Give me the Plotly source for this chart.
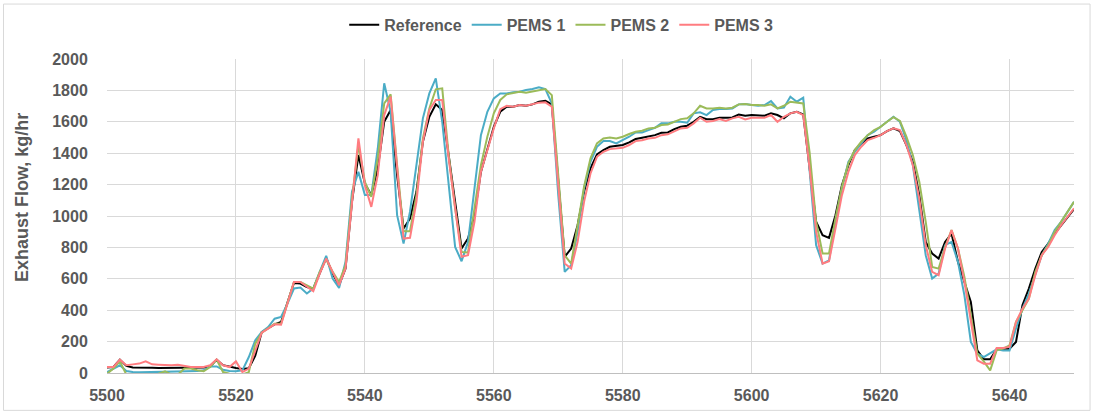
import plotly.graph_objects as go

time_s = list(range(5500, 5651))

reference = [35, 38, 85, 45, 35, 33, 33, 33, 32, 32, 32, 33, 35, 35, 35, 35, 40, 85, 50, 40,
             32, 25, 30, 110, 260, 285, 310, 325, 453, 574, 570, 548, 538, 633, 733, 633, 559, 665, 1090, 1388,
             1207, 1133, 1303, 1600, 1675, 1260, 920, 984, 1154, 1473, 1632, 1711, 1675, 1388, 1090, 793, 857, 1005, 1281, 1430,
             1568, 1664, 1696, 1696, 1707, 1702, 1711, 1728, 1734, 1711, 1218, 740, 793, 941, 1154, 1303, 1392, 1420, 1441, 1447,
             1452, 1469, 1490, 1498, 1507, 1515, 1530, 1532, 1553, 1568, 1575, 1600, 1632, 1617, 1617, 1626, 1626, 1628, 1647, 1639,
             1643, 1643, 1639, 1654, 1643, 1622, 1654, 1664, 1647, 1300, 963, 878, 861, 1005, 1196, 1324, 1420, 1462, 1494, 1505,
             1515, 1541, 1558, 1541, 1452, 1345, 1133, 835, 761, 729, 835, 888, 708, 580, 453, 145, 87, 87, 151, 155,
             155, 198, 431, 538, 665, 771, 824, 888, 941, 994, 1043]

pems1 = [6, 28, 49, 13, 6, 4, 5, 6, 8, 8, 8, 10, 10, 10, 12, 17, 42, 42, 21, 13,
         11, 17, 102, 208, 261, 293, 346, 357, 442, 538, 544, 506, 538, 644, 746, 601, 542, 708, 1154, 1281,
         1133, 1133, 1430, 1845, 1664, 1005, 824, 1027, 1324, 1622, 1781, 1877, 1600, 1218, 803, 712, 835, 1175, 1515, 1664,
         1749, 1781, 1781, 1788, 1792, 1803, 1809, 1820, 1809, 1717, 1133, 644, 686, 899, 1175, 1345, 1441, 1477, 1477, 1462,
         1483, 1505, 1532, 1532, 1547, 1562, 1590, 1590, 1600, 1600, 1594, 1654, 1660, 1643, 1675, 1681, 1681, 1685, 1711, 1713,
         1707, 1702, 1707, 1732, 1685, 1690, 1760, 1728, 1754, 1300, 814, 697, 718, 963, 1175, 1345, 1409, 1462, 1515, 1537,
         1568, 1600, 1632, 1600, 1483, 1324, 1027, 750, 601, 633, 814, 835, 708, 495, 198, 123, 102, 127, 151, 144,
         144, 283, 410, 506, 623, 750, 824, 910, 963, 1027, 1090]

pems2 = [-5, 28, 74, -10, -10, -10, -10, -10, -5, 11, -10, -10, 28, 28, 17, 11, 38, 85, 6, -5,
         -10, -10, 6, 187, 257, 283, 314, 314, 442, 580, 580, 559, 538, 644, 725, 644, 580, 686, 1111, 1452,
         1218, 1122, 1367, 1717, 1775, 1324, 903, 903, 1133, 1494, 1685, 1807, 1813, 1388, 1048, 771, 767, 1048, 1324, 1505,
         1654, 1739, 1775, 1783, 1792, 1785, 1792, 1803, 1809, 1770, 1260, 750, 697, 941, 1186, 1367, 1462, 1494, 1500, 1494,
         1505, 1522, 1537, 1543, 1558, 1562, 1579, 1583, 1600, 1617, 1622, 1654, 1702, 1685, 1685, 1690, 1685, 1690, 1711, 1713,
         1707, 1707, 1702, 1711, 1685, 1702, 1728, 1724, 1717, 1400, 963, 761, 761, 984, 1186, 1335, 1420, 1473, 1515, 1547,
         1568, 1600, 1630, 1605, 1505, 1388, 1218, 963, 676, 665, 800, 910, 793, 612, 368, 123, 74, 17, 144, 155,
         176, 325, 399, 474, 644, 750, 814, 899, 963, 1027, 1090]

pems3 = [38, 38, 85, 49, 55, 60, 74, 55, 53, 49, 49, 53, 47, 38, 38, 38, 49, 87, 49, 38,
         74, 6, 28, 145, 257, 283, 310, 308, 442, 580, 580, 548, 521, 633, 729, 644, 559, 665, 1069, 1494,
         1196, 1058, 1260, 1643, 1760, 1281, 856, 861, 1090, 1473, 1675, 1739, 1739, 1367, 1048, 740, 750, 963, 1281, 1420,
         1558, 1681, 1702, 1696, 1707, 1702, 1711, 1722, 1724, 1696, 1196, 697, 665, 835, 1090, 1271, 1377, 1409, 1426, 1430,
         1434, 1452, 1477, 1483, 1494, 1498, 1515, 1520, 1541, 1558, 1562, 1590, 1626, 1600, 1605, 1617, 1605, 1622, 1632, 1615,
         1626, 1626, 1626, 1643, 1600, 1632, 1654, 1664, 1643, 1300, 899, 697, 712, 920, 1133, 1281, 1388, 1441, 1483, 1498,
         1515, 1541, 1558, 1547, 1452, 1324, 1111, 814, 644, 623, 793, 910, 793, 580, 325, 81, 59, 59, 159, 159,
         166, 325, 410, 474, 623, 750, 803, 878, 941, 994, 1048]

series_names = ["Reference", "PEMS 1", "PEMS 2", "PEMS 3"]
series_values = [reference, pems1, pems2, pems3]
series_colors = ["#000000", "#4BACC6", "#9BBB59", "#FF7C80"]

x_ticks = list(range(5500, 5651, 20))
y_ticks = list(range(0, 2001, 200))
y_title = "Exhaust Flow, kg/hr"

fig = go.Figure()
for name, vals, col in zip(series_names, series_values, series_colors):
    fig.add_trace(go.Scatter(x=time_s, y=vals, name=name, mode="lines",
                             line=dict(color=col, width=2)))

font_fam = "Liberation Sans, Arial, sans-serif"
tick_col = "#595959"
grid_col = "#d9d9d9"

fig.update_layout(
    width=1094, height=414,
    margin=dict(l=107, r=20, t=59, b=41, autoexpand=False),
    paper_bgcolor="white", plot_bgcolor="white",
    showlegend=True,
    legend=dict(orientation="h", xref="container", x=0.513, xanchor="center",
                yref="container", y=0.94, yanchor="middle",
                font=dict(family=font_fam, size=16, color=tick_col, weight="bold"),
                itemwidth=30, tracegroupgap=0),
    xaxis=dict(range=[5500, 5650], tickvals=x_ticks, ticktext=[str(v) for v in x_ticks],
               showgrid=True, gridcolor=grid_col, gridwidth=1,
               showline=True, linecolor="#bfbfbf", linewidth=1,
               ticks="outside", ticklen=8, tickcolor="rgba(0,0,0,0)",
               tickfont=dict(family=font_fam, size=16, color=tick_col, weight="bold"),
               zeroline=False),
    yaxis=dict(range=[0, 2000], tickvals=y_ticks, ticktext=[str(v) for v in y_ticks],
               showgrid=True, gridcolor=grid_col, gridwidth=1,
               showline=False,
               ticks="outside", ticklen=15, tickcolor="rgba(0,0,0,0)",
               tickfont=dict(family=font_fam, size=16, color=tick_col, weight="bold"),
               zeroline=False),
    annotations=[dict(text=y_title, xref="paper", yref="paper", x=-0.088, y=0.56,
                      textangle=-90, showarrow=False, xanchor="center", yanchor="middle",
                      font=dict(family=font_fam, size=18, color=tick_col, weight="bold"))],
    shapes=[dict(type="rect", xref="paper", yref="paper",
                 x0=-0.107, x1=1.0166, y0=-0.119, y1=1.175,
                 line=dict(color="#d9d9d9", width=1), fillcolor="rgba(0,0,0,0)", layer="below")],
)

fig.write_html("out.html")
